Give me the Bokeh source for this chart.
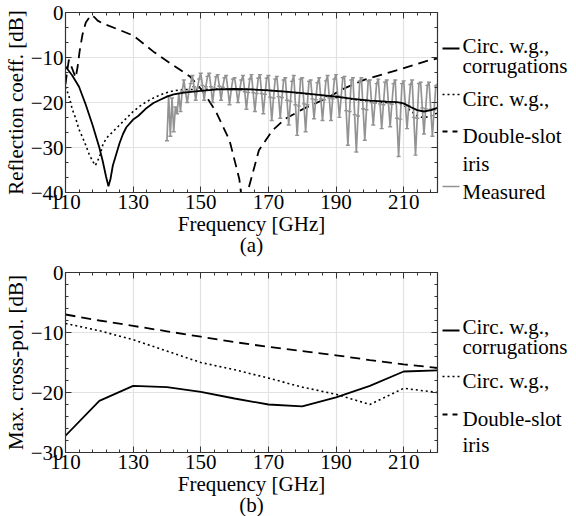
import numpy as np
from bokeh.plotting import figure
from bokeh.models import LinearAxis, FixedTicker, Range1d
from bokeh.core.properties import value
from bokeh.layouts import column, row
from bokeh.embed import file_html
from bokeh.resources import INLINE

FONT = "Liberation Serif"

# ---------------- data: (a) reflection coefficient ----------------
corr_f = [110, 112, 114, 116, 118, 120, 121, 122, 122.7, 123.3, 124, 125, 126, 127, 128,
          130, 131.5, 134, 136, 138, 140, 142, 145, 150, 155, 160, 165, 170, 175, 180,
          185, 190, 195, 200, 205, 208, 210, 212, 214, 216, 218, 220]
corr_db = [-12.0, -14.0, -16.5, -20.5, -25.0, -30.0, -33.0, -36.5, -38.6, -37.0, -34.0, -31.5,
           -29.0, -27.0, -25.5, -23.8, -23.0, -21.2, -20.1, -19.4, -18.7, -18.2, -17.8, -17.4,
           -17.1, -17.0, -17.1, -17.3, -17.6, -17.9, -18.3, -18.7, -19.2, -19.6, -19.8, -19.9,
           -20.2, -21.0, -21.7, -22.0, -21.7, -21.2]

circ_f = [110, 111, 112, 113, 114, 115, 116, 117, 118, 118.8, 119.5, 120.3, 121, 122, 124,
          126, 128, 130, 132, 134, 136, 138, 140, 142, 145, 150, 155, 160, 165, 170, 175,
          180, 185, 190, 195, 200, 205, 208, 210, 212, 214, 216, 218, 220]
circ_db = [-16.5, -18.5, -21.5, -23.5, -26.0, -27.7, -29.5, -31.5, -33.0, -34.0, -33.0, -31.5,
           -29.5, -28.0, -26.5, -25.0, -23.5, -22.0, -20.8, -19.8, -19.0, -18.3, -17.8, -17.4,
           -17.1, -17.1, -17.0, -17.0, -17.1, -17.3, -17.6, -18.0, -18.4, -18.9, -19.3, -19.7,
           -20.0, -20.2, -20.6, -21.8, -23.0, -23.4, -23.0, -22.3]

iris_f = [110, 110.5, 111, 112, 113, 113.6, 114.2, 115, 116, 117.5, 118.5, 119.5, 121, 125,
          130, 136, 141, 146.8, 150.6, 154.4, 158.5, 161.4, 162.8, 163.8, 167.2, 171.2, 175,
          180.9, 186.8, 192.6, 198.5, 208.5, 216.2, 220]
iris_db = [-16.0, -13.0, -10.5, -12.5, -14.5, -12.0, -8.5, -5.0, -2.2, -0.6, -1.0, -1.8, -2.4,
           -3.6, -5.1, -8.7, -11.3, -14.2, -17.5, -21.9, -28.4, -37.0, -46.0, -40.0, -30.6,
           -26.2, -23.6, -21.2, -19.2, -16.8, -14.9, -12.7, -10.9, -10.2]

meas_f = np.arange(140.0, 220.01, 0.5)
meas_db = [-28.5, -18.5, -27.5, -19.0, -26.5, -21.0, -22.5, -18.0, -22.0, -17.5,
           -15.0, -17.8, -20.0, -17.5, -15.8,
           -14.0, -16.5, -19.5, -16.8, -14.8,
           -13.5, -16.2, -19.5, -16.5, -14.2,
           -13.5, -16.5, -20.0, -16.8, -14.3,
           -13.8, -16.4, -19.5, -16.6, -14.5,
           -14.0, -17.0, -20.5, -17.2, -14.8,
           -14.5, -17.1, -20.0, -17.3, -15.0,
           -14.0, -17.6, -21.5, -17.8, -14.8,
           -13.8, -17.8, -22.0, -18.0, -14.6,
           -13.8, -18.0, -22.5, -18.2, -14.6,
           -14.0, -18.8, -24.0, -19.0, -14.8,
           -14.2, -18.7, -23.5, -18.9, -15.0,
           -14.5, -19.5, -25.0, -19.7, -15.3,
           -14.0, -20.5, -27.3, -20.8, -14.8,
           -14.5, -20.3, -26.5, -20.5, -15.3,
           -15.0, -19.2, -23.6, -19.4, -15.6,
           -14.5, -19.2, -24.0, -19.4, -15.2,
           -14.0, -19.0, -24.0, -19.2, -14.8,
           -13.8, -18.5, -23.3, -18.8, -14.5,
           -14.2, -21.8, -29.5, -22.0, -15.0,
           -14.5, -22.7, -31.0, -23.0, -15.2,
           -14.5, -21.4, -28.4, -21.6, -15.2,
           -15.0, -20.0, -25.0, -20.2, -15.8,
           -14.8, -20.3, -25.8, -20.5, -15.5,
           -15.0, -20.2, -25.4, -20.4, -15.8,
           -15.0, -23.5, -32.0, -23.7, -15.8,
           -15.2, -20.5, -25.8, -20.7, -16.0,
           -15.0, -23.3, -31.7, -23.5, -15.8,
           -15.5, -21.2, -27.0, -21.4, -16.2,
           -15.5, -21.5, -27.5, -21.7, -16.3,
           -16.0]

# ---------------- data: (b) max cross-pol ----------------
xp_f = [110, 120, 130, 140, 150, 160, 170, 180, 190, 200, 210, 220]
xp_corr = [-27.2, -21.4, -18.9, -19.1, -19.9, -21.0, -22.0, -22.3, -20.8, -18.9, -16.5, -16.3]
xp_circ = [-8.5, -9.7, -11.2, -13.1, -15.0, -16.2, -17.6, -19.1, -20.3, -22.0, -19.3, -20.0]
xp_iris = [-7.0, -8.0, -8.9, -9.8, -10.7, -11.6, -12.4, -13.1, -13.8, -14.6, -15.3, -15.9]

x_ticks = [110, 130, 150, 170, 190, 210]
y_ticks_a = [0, -10, -20, -30, -40]
y_ticks_b = [0, -10, -20, -30]

GRAY = "#939393"
FS = "21px"

# ---------------- layout / styles ----------------
FRAME_W = 372
LEFT, RIGHT = 56, 4
LEG_W = 128
DASH = "10 6"
DOT = "2 3"
LEG_DOT = "2 3"
LEG_DASH = "5 5"


def make_fig(ylo, yhi, yticks, yminor, ylabel, xlabel, top, fh, bottom):
    p = figure(frame_width=FRAME_W, frame_height=fh, min_border_left=LEFT, min_border_right=RIGHT,
               min_border_top=top, min_border_bottom=bottom,
               x_range=Range1d(110, 220), y_range=Range1d(ylo, yhi),
               output_backend="svg", toolbar_location=None)
    p.outline_line_color = "#333333"
    p.outline_line_width = 1.2
    xt = FixedTicker(ticks=x_ticks, minor_ticks=list(range(110, 222, 4)))
    yt = FixedTicker(ticks=yticks, minor_ticks=yminor)
    p.xaxis.ticker = xt
    p.yaxis.ticker = yt
    p.xgrid.ticker = xt
    p.ygrid.ticker = yt
    for g in (p.xgrid, p.ygrid):
        g.grid_line_color = "#e2e2e2"
        g.grid_line_width = 1.2
    for ax in (p.xaxis, p.yaxis):
        ax.major_tick_in = 6
        ax.major_tick_out = 0
        ax.minor_tick_in = 3
        ax.minor_tick_out = 0
        ax.axis_line_color = "#333333"
        ax.major_tick_line_color = "#333333"
        ax.minor_tick_line_color = "#333333"
        ax.major_label_text_font = FONT
        ax.major_label_text_font_size = FS
        ax.major_label_text_color = "black"
        ax.axis_label_text_font = FONT
        ax.axis_label_text_font_size = FS
        ax.axis_label_text_font_style = "normal"
        ax.axis_label_text_color = "black"
        ax.major_label_standoff = 2
        ax.axis_label_standoff = 0
    p.xaxis.axis_label = xlabel
    p.xaxis.axis_label_text_line_height = 0.9
    p.yaxis.axis_label = ylabel
    for side, tk in (("right", yt), ("above", xt)):
        ax = LinearAxis(ticker=tk, major_label_text_font_size="1px", major_label_standoff=0,
                        major_label_overrides={t: "" for t in tk.ticks},
                        major_tick_in=6, major_tick_out=0, minor_tick_in=3, minor_tick_out=0,
                        axis_line_color="#333333", major_tick_line_color="#333333",
                        minor_tick_line_color="#333333")
        p.add_layout(ax, side)
    return p


def legend_fig(height, entries, texts):
    lf = figure(frame_width=LEG_W, frame_height=height, min_border=0,
                x_range=Range1d(0, LEG_W), y_range=Range1d(0, height),
                x_axis_location=None, y_axis_location=None,
                output_backend="svg", toolbar_location=None)
    lf.grid.visible = False
    lf.outline_line_color = None
    for ys, color, dash, width in entries:
        lf.line([1, 18], [ys, ys], line_color=color, line_dash=dash, line_width=width)
    lf.text(x=[21] * len(texts), y=[t[1] for t in texts], text=[t[0] for t in texts],
            text_font=value(FONT), text_font_size=FS, text_baseline="alphabetic",
            text_align="left", text_color="black")
    return lf


# ---------- (a) ----------
H1_TOP, H1_FRAME, H1_BOT = 12, 180, 56
p1 = make_fig(-40, 0, y_ticks_a, [-40 + i * 10 / 3 for i in range(13)],
              "Reflection coeff. [dB]", "Frequency [GHz]\n(a)", H1_TOP, H1_FRAME, H1_BOT)
p1.line(iris_f, iris_db, line_color="black", line_width=1.8, line_dash=DASH)
p1.line(circ_f, circ_db, line_color="black", line_width=1.6, line_dash=DOT)
p1.line(meas_f, meas_db, line_color=GRAY, line_width=1.7)
p1.scatter(meas_f, meas_db, marker="dash", size=4, line_color=GRAY, line_width=1.4)
p1.line(corr_f, corr_db, line_color="black", line_width=1.8)

H1 = H1_TOP + H1_FRAME + H1_BOT
leg1 = legend_fig(H1,
                  [(212, "black", "solid", 1.8), (166, "black", LEG_DOT, 1.4),
                   (129, "black", LEG_DASH, 1.8), (74, GRAY, "solid", 1.6)],
                  [("Circ. w.g.,", 215), ("corrugations", 195), ("Circ. w.g.,", 162),
                   ("Double-slot", 125), ("iris", 97), ("Measured", 69)])

# ---------- (b) ----------
H2_TOP, H2_FRAME, H2_BOT = 12, 180, 60
p2 = make_fig(-30, 0, y_ticks_b, list(range(-30, 1, 2)),
              "Max. cross-pol. [dB]", "Frequency [GHz]\n(b)", H2_TOP, H2_FRAME, H2_BOT)
p2.line(xp_f, xp_iris, line_color="black", line_width=1.8, line_dash=DASH)
p2.line(xp_f, xp_circ, line_color="black", line_width=1.6, line_dash=DOT)
p2.line(xp_f, xp_corr, line_color="black", line_width=1.8)

H2 = H2_TOP + H2_FRAME + H2_BOT
leg2 = legend_fig(H2,
                  [(194, "black", "solid", 1.8), (148, "black", LEG_DOT, 1.4),
                   (110, "black", LEG_DASH, 1.8)],
                  [("Circ. w.g.,", 198), ("corrugations", 178), ("Circ. w.g.,", 144),
                   ("Double-slot", 106), ("iris", 80)])

layout = column(row(p1, leg1), row(p2, leg2))
open("out.html", "w").write(file_html(layout, INLINE))
